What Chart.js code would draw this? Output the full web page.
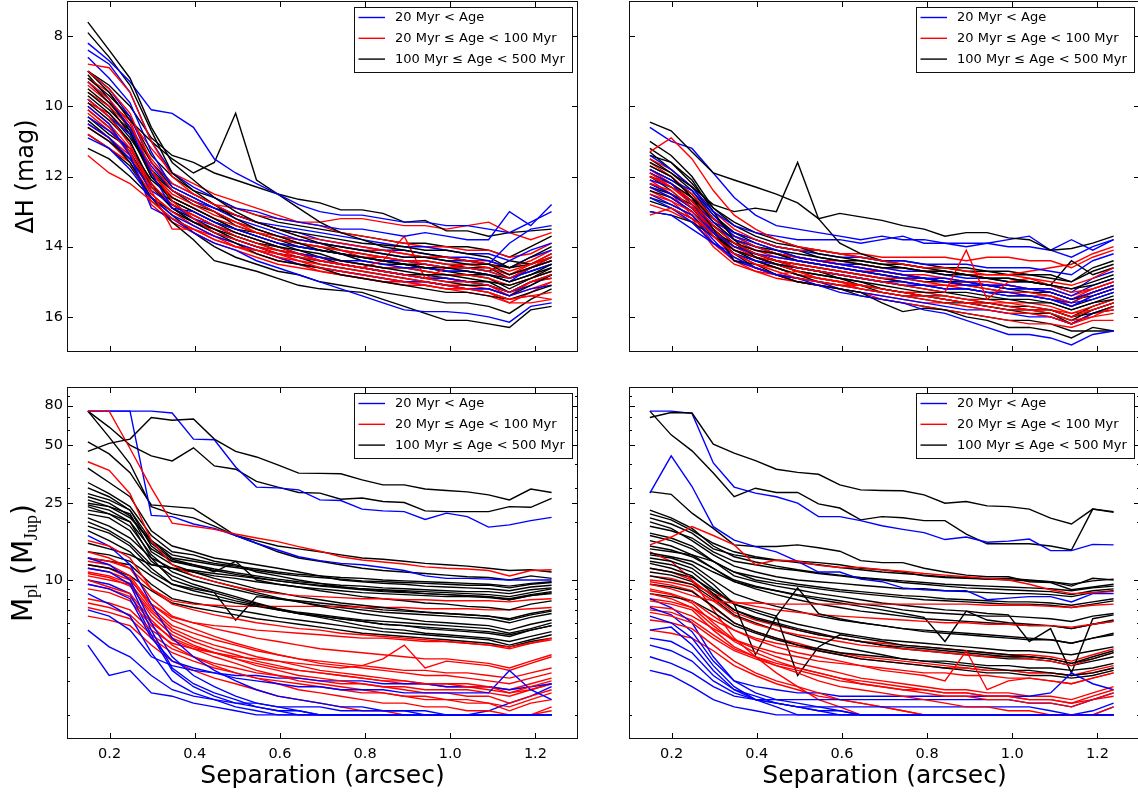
<!DOCTYPE html>
<html>
<head>
<meta charset="utf-8">
<script src="https://cdn.jsdelivr.net/npm/chart.js@4.4.1/dist/chart.umd.min.js"></script>
<style>
  html, body { margin: 0; padding: 0; background: #fff; overflow: hidden; width: 1138px; height: 795px; }
  canvas { position: absolute; }
</style>
</head>
<body>
<canvas id="tl" width="590" height="360" style="left:0px;top:0px"></canvas>
<canvas id="tr" width="590" height="360" style="left:562px;top:0px"></canvas>
<canvas id="bl" width="590" height="415" style="left:0px;top:380px"></canvas>
<canvas id="br" width="590" height="415" style="left:562px;top:380px"></canvas>
<script>
// Projected separations (arcsec) at which each contrast / mass limit is sampled
const separation = [0.149, 0.199, 0.248, 0.298, 0.347, 0.397, 0.446, 0.496, 0.545, 0.595, 0.644, 0.694,
                    0.743, 0.793, 0.842, 0.892, 0.941, 0.991, 1.040, 1.090, 1.139, 1.189, 1.238];

const sepTicks = [0.2, 0.4, 0.6, 0.8, 1.0, 1.2];
const dhTicks = [8, 10, 12, 14, 16];
const massTicks = [10, 25, 50, 80];
const massMinor = [2, 3, 4, 5, 6, 7, 8, 9, 20, 30, 40, 60, 70, 90];

const legendLabels = ['20 Myr < Age', '20 Myr \u2264 Age < 100 Myr', '100 Myr \u2264 Age < 500 Myr'];
const groupColors = ['#0000ff', '#ff0000', '#000000'];

// ---- Contrast limits, left column (Delta H, mag) ----
const dhLeftYoung = [
  [8.2,8.7,9.3,10.1,10.2, 10.6,11.5,11.9,12.2,12.5,12.8, 13.0,13.1,13.1,13.2,13.3,13.3, 13.4,13.4,13.5,13.6,13.3,13.0],
  [8.4,8.8,9.6,11.0,11.9, 12.3,12.6,12.9,13.0,13.2,13.3, 13.4,13.5,13.5,13.6,13.7,13.6, 13.7,13.8,13.8,13.0,13.4,12.8],
  [8.6,9.2,9.9,11.3,12.3, 12.6,12.9,13.2,13.4,13.6,13.8, 13.9,14.0,14.1,14.2,14.3,14.3, 14.4,14.4,14.5,13.9,13.5,13.4],
  [9.3,9.8,10.6,11.9,12.9, 13.0,13.3,13.5,13.7,13.9,14.0, 14.1,14.2,14.3,14.4,14.4,14.5, 14.6,14.6,14.7,14.9,14.7,14.5],
  [10.0,10.5,11.4,12.9,13.2, 13.6,13.9,14.1,14.4,14.6,14.8, 15.0,15.2,15.4,15.6,15.8,15.85, 15.85,15.9,16.0,16.15,15.7,15.6],
  [10.5,10.9,11.5,12.4,12.8, 13.2,13.4,13.6,13.8,14.0,14.2, 14.3,14.4,14.4,14.5,14.6,14.6, 14.7,14.7,14.8,15.0,14.6,14.4],
  [10.9,11.2,11.8,12.6,13.1, 13.4,13.7,13.9,14.1,14.3,14.5, 14.6,14.7,14.8,14.9,15.0,15.0, 15.1,15.2,15.2,15.4,15.2,15.1],
  [9.8,10.3,10.8,11.7,12.4, 12.7,12.9,13.1,13.3,13.4,13.5, 13.6,13.7,13.8,13.9,14.0,14.0, 14.1,14.2,14.2,14.4,14.1,13.9],
  [9.0,9.5,10.3,11.6,12.2, 12.5,12.8,13.1,13.3,13.5,13.6, 13.8,13.9,14.0,14.1,14.1,14.2, 14.3,14.3,14.4,14.6,14.3,14.1],
  [10.3,10.7,11.2,12.2,12.9, 13.3,13.6,13.8,14.0,14.2,14.3, 14.4,14.5,14.6,14.7,14.8,14.9, 14.9,15.0,15.1,15.3,15.1,14.8]
];
const dhLeftMid = [
  [8.8,8.9,9.6,11.0,12.0, 12.5,12.8,13.1,13.3,13.5,13.7, 13.8,13.9,14.0,14.1,14.2,14.3, 14.3,14.4,14.5,14.7,14.5,14.3],
  [9.0,9.5,10.2,11.6,12.4, 12.7,13.0,13.3,13.6,13.8,13.9, 14.0,14.1,14.3,14.3,14.4,14.5, 14.6,14.6,14.7,14.9,14.6,14.4],
  [9.3,9.8,10.5,11.8,12.7, 13.2,13.6,13.8,14.0,14.2,14.3, 14.4,14.5,14.6,14.7,14.8,14.9, 15.0,15.0,15.1,15.3,15.0,14.8],
  [9.8,10.3,11.1,12.4,13.5, 13.5,13.8,14.0,14.1,14.3,14.4, 14.6,14.7,14.8,14.9,15.0,15.1, 15.2,15.2,15.3,15.5,15.4,15.5],
  [11.4,11.9,12.2,12.7,13.2, 13.5,13.8,14.0,14.1,14.2,14.4, 14.5,14.6,14.7,14.8,14.9,15.0, 15.1,15.2,15.3,15.5,15.4,15.3],
  [10.0,10.5,11.2,12.2,12.8, 13.1,13.4,13.6,13.8,14.0,14.2, 14.4,14.5,14.6,14.4,13.7,14.9, 14.6,14.5,14.6,14.8,14.6,14.3],
  [10.5,10.9,11.4,12.3,12.8, 13.1,13.4,13.7,13.9,14.1,14.2, 14.3,14.4,14.5,14.6,14.6,14.7, 14.8,14.8,14.9,15.1,14.9,14.7],
  [9.6,10.0,10.6,11.5,12.2, 12.5,12.8,12.9,13.1,13.2,13.3, 13.3,13.2,13.2,13.3,13.4,13.4, 13.5,13.4,13.3,13.6,13.8,13.6],
  [10.8,11.2,11.6,12.5,13.0, 13.4,13.7,14.0,14.2,14.4,14.5, 14.7,14.8,14.9,15.0,15.1,15.1, 15.2,15.3,15.4,15.6,15.6,15.5],
  [9.4,9.9,10.4,11.2,11.9, 12.2,12.5,12.7,12.9,13.1,13.3, 13.4,13.6,13.7,13.8,13.9,14.0, 14.0,14.1,14.1,14.3,14.2,13.9],
  [10.2,10.7,11.3,12.5,13.0, 13.3,13.5,13.8,14.0,14.1,14.3, 14.4,14.5,14.6,14.7,14.8,14.9, 14.9,15.0,15.1,15.4,15.0,14.9],
  [9.2,9.6,10.4,11.9,12.6, 12.9,13.2,13.4,13.6,13.7,13.9, 14.0,14.1,14.2,14.3,14.4,14.4, 14.5,14.5,14.6,14.8,14.5,14.2],
  [10.1,10.6,11.4,12.8,13.3, 13.6,13.9,14.1,14.3,14.5,14.6, 14.7,14.8,14.9,15.0,15.0,15.1, 15.2,15.2,15.3,15.6,15.3,15.0],
  [9.9,10.2,10.8,11.9,12.5, 12.8,13.1,13.3,13.5,13.7,13.8, 13.9,14.0,14.1,14.1,14.2,14.3, 14.3,14.4,14.4,14.6,14.4,14.1],
  [10.6,11.0,11.6,12.7,13.2, 13.5,13.7,13.9,14.1,14.3,14.5, 14.6,14.7,14.8,14.9,15.0,15.0, 15.1,15.1,15.2,15.4,15.2,15.0]
];
const dhLeftOld = [
  [7.6,8.4,9.2,10.6,11.6, 12.1,12.6,13.0,13.3,13.5,13.7, 13.9,14.0,14.1,14.2,14.3,14.3, 14.4,14.5,14.5,14.8,14.6,14.4],
  [7.9,8.6,9.4,10.7,11.9, 12.4,12.8,13.2,13.5,13.7,13.9, 14.1,14.2,14.3,14.4,14.5,14.6, 14.6,14.7,14.8,15.0,14.8,14.5],
  [9.0,9.6,10.4,11.0,11.5, 11.9,11.6,10.2,12.1,12.5,12.9, 13.3,13.6,13.8,14.0,14.1,14.2, 14.3,14.4,14.5,14.6,14.5,14.3],
  [9.0,9.4,10.0,10.9,11.4, 11.6,11.9,12.1,12.3,12.5,12.65, 12.75,12.95,12.95,13.05,13.3,13.25, 13.55,13.55,13.7,13.6,13.55,13.5],
  [9.3,9.9,10.6,11.6,12.3, 12.6,12.9,13.1,13.3,13.5,13.6, 13.7,13.8,13.9,13.95,14.0,14.1, 14.1,14.2,14.3,14.6,14.3,14.0],
  [9.6,10.1,10.7,12.0,12.7, 13.0,13.3,13.6,13.8,14.0,14.1, 14.2,14.4,14.5,14.6,14.7,14.8, 14.8,14.9,15.0,15.1,14.9,14.7],
  [9.9,10.4,11.0,12.2,12.9, 13.3,13.6,13.9,14.2,14.4,14.5, 14.6,14.8,14.9,15.0,15.1,15.2, 15.3,15.3,15.4,15.5,15.3,15.1],
  [10.4,10.9,11.6,12.6,13.3, 13.8,14.4,14.55,14.7,14.9,15.1, 15.2,15.25,15.3,15.5,15.7,15.9, 16.1,16.1,16.2,16.3,15.8,15.7],
  [10.6,11.0,11.5,12.3,12.9, 13.2,13.5,13.8,14.0,14.2,14.3, 14.5,14.6,14.7,14.8,14.9,15.0, 15.1,15.2,15.2,15.4,15.1,14.8],
  [11.2,11.5,12.0,12.6,13.0, 13.3,13.5,13.7,13.9,14.1,14.2, 14.3,14.4,14.5,14.6,14.6,14.7, 14.8,14.8,14.9,15.2,14.9,14.6],
  [9.2,9.7,10.3,11.4,12.0, 12.4,12.6,12.9,13.1,13.3,13.4, 13.5,13.6,13.7,13.8,13.9,13.9, 14.0,14.0,14.1,14.3,14.0,13.7],
  [10.3,10.8,11.2,12.1,12.6, 12.9,13.2,13.5,13.7,13.9,14.1, 14.3,14.5,14.6,14.7,14.8,14.9, 15.0,15.1,15.1,15.3,15.0,14.9],
  [9.7,10.2,10.9,11.8,12.4, 12.7,13.0,13.4,13.6,13.8,13.9, 14.0,14.2,14.3,14.4,14.5,14.6, 14.7,14.7,14.8,14.9,14.7,14.5],
  [9.5,10.0,10.8,12.0,12.6, 12.9,13.2,13.5,13.7,13.9,14.0, 14.1,14.2,14.3,14.4,14.5,14.5, 14.6,14.6,14.7,14.4,14.5,14.2],
  [9.1,9.8,10.7,11.9,12.4, 12.8,13.0,13.3,13.5,13.7,13.8, 13.9,14.1,14.2,14.3,14.4,14.4, 14.5,14.6,14.6,14.9,14.6,14.3],
  [9.8,10.3,11.0,12.3,12.8, 13.1,13.4,13.7,13.9,14.0,14.2, 14.4,14.5,14.6,14.7,14.8,14.8, 14.9,15.0,15.0,15.3,15.0,14.8],
  [10.1,10.6,11.3,12.3,12.7, 13.0,13.3,13.5,13.6,13.8,14.0, 14.1,14.2,14.4,14.5,14.5,14.6, 14.7,14.8,14.8,15.0,14.8,14.6],
  [10.8,11.2,11.7,12.6,13.1, 13.6,14.0,14.3,14.5,14.7,14.8, 15.0,15.1,15.2,15.3,15.4,15.5, 15.6,15.6,15.7,15.9,15.5,15.2]
];

// ---- Contrast limits, right column (Delta H, mag) ----
const dhRightYoung = [
  [10.6,11.0,11.2,11.9,12.6, 13.1,13.4,13.5,13.6,13.7,13.8, 13.7,13.8,13.8,13.9,13.9,13.9, 14.0,14.0,14.1,14.3,14.0,13.8],
  [11.4,11.8,12.3,13.0,13.4, 13.6,13.7,13.8,13.8,13.8,13.9, 13.8,13.7,13.9,13.9,14.0,13.9, 13.8,13.7,14.1,13.8,14.1,13.8],
  [12.3,12.6,13.0,13.6,14.0, 14.2,14.3,14.4,14.5,14.6,14.7, 14.8,14.9,14.9,15.0,15.1,15.1, 15.2,15.2,15.3,15.5,15.3,15.1],
  [12.6,12.9,13.3,13.9,14.3, 14.6,14.8,14.9,15.1,15.3,15.4, 15.5,15.6,15.8,15.9,16.1,16.3, 16.5,16.5,16.6,16.8,16.5,16.4],
  [13.0,13.1,13.5,13.9,14.2, 14.4,14.5,14.6,14.7,14.8,14.9, 15.0,15.0,15.1,15.2,15.2,15.3, 15.3,15.4,15.5,15.6,15.5,15.3],
  [11.8,12.1,12.4,13.1,13.7, 13.9,14.1,14.3,14.4,14.5,14.6, 14.7,14.8,14.9,14.9,15.0,15.1, 15.1,15.2,15.2,15.4,15.1,14.9],
  [12.1,12.3,12.7,13.3,13.6, 13.8,14.0,14.1,14.2,14.3,14.3, 14.4,14.4,14.5,14.5,14.5,14.6, 14.6,14.6,14.7,14.8,14.4,14.2],
  [12.5,12.8,13.1,13.8,14.4, 14.6,14.8,14.9,15.0,15.2,15.3, 15.4,15.5,15.6,15.7,15.8,15.8, 15.9,16.0,16.0,16.2,15.9,15.7],
  [11.9,12.2,12.8,13.6,14.1, 14.3,14.5,14.6,14.7,14.8,14.9, 15.0,15.1,15.1,15.2,15.2,15.3, 15.4,15.4,15.5,15.7,15.4,15.2],
  [12.2,12.5,12.9,13.4,13.8, 14.0,14.2,14.3,14.4,14.5,14.5, 14.6,14.7,14.7,14.8,14.9,14.9, 15.0,15.0,15.1,15.3,14.9,14.7]
];
const dhRightMid = [
  [11.3,10.9,11.5,12.4,13.1, 13.5,13.8,14.0,14.1,14.2,14.3, 14.4,14.5,14.6,14.6,14.7,14.8, 14.8,14.9,15.0,15.1,14.9,14.6],
  [12.0,12.3,12.7,13.4,13.9, 14.2,14.4,14.6,14.7,14.8,14.9, 15.0,15.1,15.2,15.3,14.1,15.5, 15.0,14.9,15.1,15.3,15.2,15.0],
  [12.5,12.7,13.0,13.7,14.2, 14.5,14.7,14.9,15.0,15.1,15.2, 15.3,15.4,15.5,15.6,15.7,15.8, 15.9,15.9,16.0,16.2,16.0,15.9],
  [13.1,12.9,13.2,13.6,14.0, 14.3,14.5,14.7,14.9,15.0,15.1, 15.2,15.3,15.4,15.5,15.6,15.6, 15.7,15.8,15.8,16.0,15.8,15.6],
  [11.9,12.3,12.8,13.7,14.3, 14.6,14.8,14.7,14.9,15.0,15.2, 15.3,15.4,15.4,15.5,15.6,15.7, 15.8,15.8,15.9,16.1,16.0,15.7],
  [11.5,11.8,12.3,13.0,13.5, 13.8,14.0,14.1,14.1,14.2,14.2, 14.3,14.3,14.3,14.3,14.4,14.3, 14.3,14.4,14.4,14.6,14.3,14.1],
  [12.2,12.4,12.9,13.5,14.1, 14.3,14.4,14.5,14.6,14.7,14.8, 14.9,14.9,15.0,15.1,15.1,15.2, 15.3,15.3,15.4,15.6,15.3,15.1],
  [11.7,12.0,12.5,13.2,13.7, 14.0,14.2,14.3,14.4,14.5,14.6, 14.7,14.8,14.8,14.9,15.0,15.0, 15.1,15.2,15.2,15.4,15.2,15.0],
  [12.8,13.0,13.3,13.9,14.4, 14.6,14.8,15.0,15.1,15.2,15.3, 15.5,15.6,15.7,15.8,15.9,16.0, 16.1,16.2,16.2,16.3,16.1,16.1],
  [12.3,12.6,13.0,13.6,13.9, 14.1,14.2,14.3,14.4,14.4,14.5, 14.6,14.6,14.7,14.7,14.8,14.8, 14.8,14.7,14.6,14.5,14.2,14.0],
  [12.1,12.5,13.1,13.9,14.4, 14.7,14.8,14.9,15.0,15.1,15.1, 15.2,15.3,15.3,15.4,15.5,15.5, 15.6,15.6,15.7,15.9,15.7,15.5],
  [11.8,12.2,12.7,13.5,14.0, 14.2,14.4,14.5,14.6,14.7,14.8, 14.9,15.0,15.1,15.1,15.2,15.3, 15.3,15.4,15.4,15.7,15.4,15.2],
  [12.4,12.7,13.2,14.0,14.5, 14.7,14.9,15.0,15.1,15.2,15.3, 15.4,15.5,15.6,15.6,15.7,15.8, 15.9,15.9,16.0,16.2,15.9,15.8],
  [12.0,12.2,12.6,13.3,13.8, 14.1,14.3,14.4,14.5,14.6,14.7, 14.7,14.8,14.9,15.0,15.0,15.1, 15.1,15.2,15.3,15.5,15.2,15.0],
  [11.6,12.0,12.6,13.6,14.2, 14.5,14.6,14.8,14.9,15.0,15.1, 15.2,15.3,15.3,15.4,15.5,15.6, 15.6,15.7,15.8,15.9,15.8,15.6]
];
const dhRightOld = [
  [10.45,10.7,11.3,11.9,12.1, 12.3,12.5,12.75,13.2,13.05,13.15, 13.25,13.4,13.5,13.7,13.6,13.6, 13.75,13.8,14.1,14.05,13.9,13.7],
  [11.6,11.9,12.3,12.8,13.0, 12.9,13.0,11.6,13.2,13.9,14.2, 14.4,14.5,14.6,14.7,14.8,14.9, 14.9,15.0,15.1,15.2,15.1,14.9],
  [11.0,11.4,12.0,12.9,13.4, 13.7,13.9,14.0,14.2,14.3,14.4, 14.5,14.6,14.7,14.7,14.8,14.9, 14.9,15.0,15.1,15.2,15.0,14.8],
  [11.4,11.6,12.1,13.0,13.8, 14.3,14.5,14.6,14.7,14.9,15.0, 15.1,15.2,15.3,15.3,15.4,15.5, 15.5,15.6,15.6,15.8,15.6,15.5],
  [11.7,12.0,12.6,13.5,14.4, 14.5,14.8,15.0,15.1,15.2,15.3, 15.6,15.85,15.75,15.8,16.0,16.1, 16.3,16.3,16.4,16.6,16.3,16.4],
  [12.0,12.3,12.7,13.4,13.9, 14.2,14.4,14.6,14.7,14.8,14.9, 15.0,15.1,15.2,15.3,15.3,15.4, 15.5,15.5,15.6,15.8,15.6,15.4],
  [12.4,12.6,13.0,13.6,14.1, 14.3,14.5,14.7,14.8,14.9,15.0, 15.2,15.3,15.4,15.5,15.6,15.6, 15.7,15.8,15.8,16.0,15.9,15.7],
  [12.7,12.9,13.2,13.6,13.9, 14.1,14.2,14.4,14.5,14.6,14.7, 14.8,14.9,14.9,15.0,15.1,15.1, 15.2,15.2,15.3,15.5,15.3,15.1],
  [13.0,13.1,13.3,13.7,14.1, 14.4,14.6,14.8,15.0,15.1,15.2, 15.3,15.4,15.5,15.6,15.6,15.7, 15.8,15.8,15.9,16.1,15.8,15.6],
  [11.9,12.2,12.6,13.2,13.6, 13.8,14.0,14.1,14.3,14.4,14.5, 14.6,14.6,14.7,14.8,14.8,14.9, 15.0,15.0,15.1,14.4,14.8,14.6],
  [12.2,12.5,12.9,13.5,14.0, 14.2,14.4,14.5,14.6,14.7,14.8, 14.9,15.0,15.1,15.2,15.2,15.3, 15.4,15.4,15.5,15.7,15.5,15.3],
  [11.3,11.8,12.3,13.1,13.6, 13.9,14.1,14.3,14.4,14.5,14.6, 14.7,14.8,14.9,15.0,15.0,15.1, 15.2,15.3,15.3,15.5,15.4,15.2],
  [12.6,12.8,13.1,13.7,14.2, 14.6,14.8,15.0,15.1,15.2,15.4, 15.5,15.6,15.7,15.8,15.9,16.0, 16.1,16.1,16.2,16.4,16.4,16.4],
  [11.8,12.1,12.5,13.3,13.8, 14.0,14.1,14.2,14.3,14.4,14.4, 14.5,14.5,14.6,14.6,14.7,14.7, 14.8,14.8,14.9,15.0,14.7,14.5],
  [11.5,11.9,12.4,13.2,13.7, 14.0,14.2,14.4,14.5,14.6,14.7, 14.8,14.9,15.0,15.0,15.1,15.2, 15.3,15.3,15.4,15.6,15.3,15.1],
  [12.3,12.5,12.8,13.4,13.9, 14.3,14.5,14.7,14.8,14.9,15.1, 15.2,15.3,15.4,15.4,15.5,15.6, 15.7,15.7,15.8,16.0,15.7,15.5],
  [12.0,12.4,12.9,13.6,14.2, 14.4,14.6,14.8,14.9,15.0,15.1, 15.3,15.4,15.4,15.5,15.6,15.7, 15.8,15.9,15.9,16.2,15.9,15.8],
  [11.2,11.6,12.2,12.9,13.3, 13.6,13.8,14.0,14.1,14.2,14.3, 14.4,14.4,14.5,14.6,14.6,14.7, 14.7,14.8,14.8,15.0,14.6,14.4]
];

// ---- Mass limits, left column (M_Jup) ----
const massLeftYoung = [
  [75,75,75,75,73.3, 53.7,53.3,38.5,30.3,30.0,29.3, 26,25.8,23.3,22.8,22.6,20.6, 22.2,21.3,18.8,19.3,20.3,21.1],
  [75,75,75,21.6,21.3, 19.5,18.5,17,15.5,14.3,13.2, 12.6,12.2,12.0,11.6,11.2,10.5, 10.2,10.2,10.1,10.0,10.0,10.0],
  [17,15,12,7.5,5.0, 4.0,3.4,3.0,2.7,2.5,2.4, 2.3,2.2,2.2,2.1,2.1,2.0, 2.0,2.0,2.0,2.0,2.0,2.0],
  [13,12,10,6.0,4.0, 3.2,2.8,2.5,2.3,2.2,2.1, 2,2,2,2,2,2, 2,2,2,2,2,2],
  [11.5,11,9.5,5.5,3.5, 2.9,2.6,2.4,2.2,2.1,2, 2,2,2,2,2,2, 2,2,2,2,2,2],
  [9.5,9,8.0,5.0,3.8, 3.5,3.3,3.1,3.0,2.9,2.8, 2.8,2.7,2.7,2.7,2.6,2.6, 2.6,2.6,2.6,3.4,2.7,2.4],
  [8.5,7.5,6.5,4.2,3.0, 2.6,2.4,2.2,2.1,2,2, 2,2,2,2,2,2, 2,2,2,2,2,2],
  [4.6,3.2,3.4,2.6,2.5, 2.3,2.2,2.1,2,2,2, 2,2,2,2,2,2, 2,2,2,2,2,2],
  [5.5,4.5,4.0,3.2,2.7, 2.5,2.4,2.3,2.3,2.2,2.2, 2.2,2.1,2.1,2.1,2.1,2.1, 2.0,2.0,2.1,2.3,2.5,2.8],
  [7.0,6.5,5.5,4.0,3.6, 3.4,3.3,3.2,3.2,3.1,3.1, 3.0,3.0,3.0,2.9,2.9,2.9, 2.8,2.8,2.8,2.7,2.8,2.9],
  [10,9.5,8.5,5.2,3.4, 2.8,2.5,2.3,2.2,2.1,2.1, 2.0,2,2,2,2,2, 2,2,2,2,2,2]
];
const massLeftMid = [
  [75,75,48,30,19.7, 19,18.3,17.3,16.5,15.8,14.9, 14.1,13.2,12.7,12.4,12.1,11.7, 11.5,11.4,11.2,10.5,11.2,11.3],
  [41,37,28,16,12, 10.5,9.8,9.2,8.8,8.5,8.3, 8.2,8.1,8.0,8.0,7.9,7.9, 7.8,7.8,7.8,7.7,7.9,8.0],
  [16,15,13,9,7.5, 7.0,6.6,6.3,6.0,5.8,5.6, 5.5,5.3,5.2,5.1,5.0,4.9, 4.8,4.7,4.6,4.4,4.7,5.0],
  [14,13,11.5,8,6.5, 6.0,5.6,5.3,5.0,4.8,4.6, 4.4,4.3,4.2,4.1,4.0,3.9, 3.9,3.8,3.7,3.5,3.8,4.1],
  [12.5,12,10.5,7.5,6.2, 5.6,5.1,4.7,4.4,4.1,3.9, 3.7,3.6,3.5,3.4,3.3,3.2, 3.2,3.1,3.0,2.9,3.1,3.3],
  [11,10.5,9.6,7.0,5.6, 5.0,4.6,4.3,4.0,3.8,3.6, 3.4,3.3,3.2,3.1,3.0,2.9, 2.9,2.8,2.8,2.6,2.8,3.0],
  [10.5,10,9.5,6.5,5.2, 4.6,4.2,3.9,3.6,3.4,3.2, 3.1,3.0,2.9,2.8,2.7,2.6, 2.6,2.5,2.5,2.3,2.5,2.7],
  [10,9.2,8.5,6.2,4.9, 4.4,4.0,3.7,3.4,3.2,3.0, 2.9,2.8,2.7,2.6,2.5,2.4, 2.4,2.3,2.3,2.1,2.3,2.4],
  [9,8.6,7.8,5.8,4.6, 4.0,3.6,3.3,3.1,2.9,2.7, 2.6,2.5,2.4,2.3,2.3,2.2, 2.2,2.1,2.1,2.0,2.0,2.2],
  [8.0,7.6,7.0,5.5,4.7, 4.4,4.2,4.0,3.9,3.8,3.7, 3.6,3.5,3.6,3.9,4.6,3.5, 3.8,3.7,3.6,3.4,3.7,4.0],
  [7.2,6.8,6.3,5.0,4.2, 3.8,3.5,3.3,3.1,3.0,2.9, 2.8,2.7,2.6,2.6,2.5,2.5, 2.4,2.4,2.3,2.2,2.4,2.6],
  [6.5,6.2,5.8,4.6,3.8, 3.4,3.1,2.9,2.7,2.5,2.4, 2.3,2.2,2.1,2.1,2.0,2.0, 2.0,2.0,2.0,2.0,2.0,2.1],
  [13,12.5,11.5,9.0,7.8, 7.5,7.4,7.3,7.3,7.3,7.3, 7.3,7.3,7.2,7.2,7.2,7.1, 7.1,7.1,7.0,7.0,7.1,7.2],
  [11.5,11,10,7.5,6.4, 6.0,5.8,5.7,5.5,5.4,5.3, 5.2,5.1,5.0,5.0,4.9,4.8, 4.8,4.7,4.6,4.5,4.7,4.9],
  [12,11.5,10.2,7.2,5.8, 5.3,4.9,4.6,4.3,4.1,3.9, 3.8,3.7,3.6,3.5,3.4,3.4, 3.3,3.3,3.2,3.1,3.3,3.5],
  [10.8,10.3,9.3,6.8,5.4, 4.8,4.4,4.1,3.8,3.6,3.4, 3.3,3.2,3.1,3.0,2.9,2.9, 2.8,2.8,2.7,2.6,2.7,2.9],
  [9.5,9.0,8.2,6.0,5.0, 4.5,4.2,3.9,3.7,3.5,3.4, 3.3,3.2,3.1,3.0,3.0,2.9, 2.9,2.9,2.8,2.7,2.9,3.1],
  [7.6,7.2,6.6,5.2,4.4, 4.0,3.7,3.5,3.3,3.2,3.1, 3.0,2.9,2.9,2.8,2.8,2.7, 2.7,2.7,2.6,2.5,2.7,2.9]
];
const massLeftOld = [
  [46.4,51,53.7,69.5,67.2, 68.2,53.7,46.4,43.4,39.5,35.8, 35.7,35.5,33.0,31.1,31.1,29.6, 29.1,28.6,27.6,26.0,29.6,28.4],
  [75,62,50,44,41.4, 48.4,39,37.5,32.4,30.3,28.4, 28.2,26.2,26.6,25.5,25.2,22.8, 22.6,22.6,22.6,24.0,23.8,26.5],
  [75,55,40,24,22, 21,19,17,16,15,14.5, 14,13.5,13,12.8,12.5,12.2, 12,11.8,11.5,11.2,11.3,11.0],
  [52,45,36,24.5,24, 23.5,20,17,15.5,14,13, 12.5,12,11.5,11.2,11,10.8, 10.6,10.4,10.3,10.0,10.5,10.2],
  [38,32,27,18,15, 14,13,12.5,12,11.5,11, 10.5,10,9.8,9.6,9.5,9.3, 9.2,9.1,9.0,8.8,9.2,9.4],
  [32,28,24,17,14, 13.5,12.5,12,11,10.5,10, 9.6,9.2,9.0,8.8,8.7,8.5, 8.4,8.3,8.2,8.0,8.4,8.7],
  [28,26,23,15,12.5, 12,11,12.5,10,9.5,9.2, 8.8,8.5,8.2,8.0,7.8,7.6, 7.5,7.3,7.2,7.0,7.5,7.8],
  [25,24,22,14,12, 11,10.2,9.6,9.0,8.6,8.2, 7.9,7.6,7.4,7.2,7.0,6.8, 6.7,6.6,6.5,6.2,6.6,6.9],
  [24,22,20,13,11.5, 10.5,9.8,9.2,8.6,8.1,7.7, 7.3,7.0,6.7,6.5,6.3,6.1, 6.0,5.9,5.8,5.5,5.9,6.2],
  [22,21,18,12.5,10.5, 9.5,8.8,8.2,7.6,7.1,6.7, 6.4,6.1,5.8,5.6,5.5,5.3, 5.2,5.1,5.0,4.8,5.1,5.4],
  [20,18,15.5,12,11.5, 11,10.5,10.2,9.8,9.5,9.2, 9.0,8.8,8.6,8.5,8.4,8.3, 8.2,8.2,8.1,7.9,8.3,8.5],
  [15.5,14.5,13.5,12,11.5, 11.2,10.8,10.5,10.2,9.9,9.6, 9.4,9.2,9.0,8.9,8.8,8.7, 8.6,8.5,8.4,8.2,8.6,9.0],
  [14,13.5,12.5,10.5,9.0, 8.4,8.0,7.6,7.3,7.0,6.7, 6.5,6.3,6.1,5.9,5.8,5.6, 5.5,5.4,5.3,5.1,5.5,5.8],
  [13,12.5,12,9.5,8.0, 7.6,7.3,7.0,6.7,6.4,6.2, 6.0,5.8,5.6,5.4,5.3,5.2, 5.1,5.0,4.9,4.6,4.9,5.2],
  [12,11.5,10.5,8.8,7.6, 7.2,6.9,6.6,6.3,6.1,5.9, 5.7,5.5,5.3,5.2,5.1,5.0, 4.9,4.8,4.7,4.5,4.8,5.0],
  [18,16,14,11,9.5, 9.0,8.6,6.2,8.2,8.0,7.8, 7.6,7.4,7.2,7.0,6.9,6.8, 6.7,6.6,6.5,6.3,6.7,7.0],
  [26,24,21,16,13.5, 12.8,12.2,11.8,11.4,11.0,10.7, 10.5,10.3,10.2,10.0,9.9,9.8, 9.7,9.6,9.5,9.3,9.6,9.8],
  [21,19,16.5,13,10, 9.2,8.6,8.0,7.5,7.1,6.8, 6.6,6.4,6.2,6.1,6.0,5.9, 5.8,5.7,5.6,5.3,5.6,6.0],
  [30,27,23,16,13, 12.5,12,11.6,11.2,10.8,10.5, 10.3,10.1,9.9,9.8,9.7,9.6, 9.5,9.4,9.4,9.1,9.5,9.7],
  [24.5,23,20,14.5,12.5, 11.8,11.2,10.7,10.3,9.9,9.6, 9.3,9.1,8.9,8.7,8.6,8.5, 8.4,8.3,8.2,7.9,8.3,8.6],
  [23,22,19,13.5,11, 10,9.4,8.9,8.4,8.0,7.7, 7.4,7.2,7.0,6.8,6.7,6.6, 6.5,6.4,6.3,6.0,6.4,6.7],
  [19,17.5,15,11.5,9.5, 8.8,8.3,7.8,7.4,7.0,6.7, 6.5,6.3,6.1,5.9,5.8,5.7, 5.6,5.5,5.4,5.2,5.5,5.8],
  [27,25,21.5,15.5,12.8, 12,11.4,10.9,10.5,10.1,9.8, 9.6,9.4,9.3,9.1,9.0,8.9, 8.8,8.7,8.7,8.5,8.9,9.1]
];

// ---- Mass limits, right column (M_Jup) ----
const massRightYoung = [
  [75,75,73,40.4,30.3, 28.2,27,25,21.3,21.3,20.3, 19.1,18.3,17.6,16.2,16.7,15.7, 15.9,16.3,14.2,14.2,15.3,15.2],
  [28.2,44,30.5,18.9,16.1, 14.9,14,12.5,11,11,10.1, 9.8,9.1,8.9,8.8,8.8,7.9, 8.05,8.2,8.2,7.7,8.5,8.5],
  [6.5,6.0,5.0,3.6,2.8, 2.4,2.2,2.0,2,2,2, 2,2,2,2,2,2, 2,2,2,2,2,2],
  [5.5,5.7,4.6,3.4,2.7, 2.4,2.3,2.2,2.1,2.1,2.0, 2,2,2,2,2,2, 2,2,2,2,2,2],
  [4.6,4.3,3.8,3.0,2.6, 2.4,2.3,2.2,2.2,2.2,2.2, 2.2,2.2,2.2,2.2,2.2,2.2, 2.2,2.2,2.1,2.0,2.1,2.3],
  [4.0,3.7,3.3,2.8,2.5, 2.4,2.4,2.4,2.4,2.4,2.4, 2.4,2.4,2.4,2.4,2.4,2.4, 2.4,2.3,2.3,2.2,2.4,2.6],
  [3.4,3.2,2.8,2.4,2.2, 2.1,2.0,2,2,2,2, 2,2,2,2,2,2, 2,2,2,2,2,2],
  [8.0,7.2,6.0,4.0,3.0, 2.8,2.7,2.6,2.6,2.5,2.5, 2.5,2.5,2.5,2.5,2.5,2.5, 2.5,2.5,2.6,3.3,2.9,2.7],
  [5.0,4.8,4.2,3.2,2.7, 2.5,2.3,2.2,2.1,2.0,2.0, 2,2,2,2,2,2, 2,2,2,2,2,2.2],
  [7.2,6.6,5.4,3.8,3.0, 2.6,2.4,2.3,2.2,2.1,2.0, 2,2,2,2,2,2, 2,2,2,2,2,2]
];
const massRightMid = [
  [15.2,16.7,18.9,17,15.2, 12,12.7,12.5,11.9,11.6,11.6, 11.3,11.1,10.8,10.6,10.4,10.2, 10.0,9.5,8.9,8.5,8.6,8.7],
  [9.5,9.0,8.3,7.8,7.6, 7.6,7.5,7.5,7.5,7.5,7.5, 7.5,7.5,7.5,7.5,7.5,7.4, 7.4,7.4,7.3,7.2,7.4,7.5],
  [9,8.5,7.8,6.5,5.5, 4.9,4.5,4.2,4.0,3.8,3.6, 3.4,3.3,3.2,3.0,4.3,2.7, 3.0,3.1,3.0,2.9,3.1,3.3],
  [8.5,8,7.2,5.8,4.8, 4.2,3.8,3.5,3.3,3.1,2.9, 2.8,2.7,2.6,2.5,2.5,2.4, 2.4,2.3,2.3,2.2,2.4,2.6],
  [7.8,7.5,7.0,5.5,4.5, 4.0,3.6,3.3,3.0,2.8,2.7, 2.6,2.5,2.4,2.3,2.2,2.2, 2.1,2.1,2.0,2.0,2.0,2.2],
  [7.3,7.1,6.5,5.6,4.9, 4.5,4.2,4.0,3.8,3.7,3.6, 3.5,3.4,3.3,3.3,3.2,3.2, 3.1,3.1,3.0,2.9,3.1,3.3],
  [6.8,6.5,6.0,5.0,4.3, 3.9,3.6,3.4,3.2,3.0,2.9, 2.8,2.7,2.7,2.6,2.6,2.5, 2.5,2.4,2.4,2.3,2.5,2.7],
  [6.2,6.0,5.6,4.6,3.8, 3.3,3.0,2.8,2.6,2.4,2.3, 2.2,2.1,2,2,2,2, 2,2,2,2,2,2],
  [10,9.7,9.2,7.8,6.5, 5.9,5.5,5.2,5.0,4.8,4.6, 4.5,4.4,4.3,4.2,4.1,4.0, 4.0,3.9,3.8,3.6,3.9,4.2],
  [10.5,10.2,9.5,8.5,7.7, 7.3,7.0,6.8,6.6,6.5,6.4, 6.3,6.2,6.1,6.0,6.0,5.9, 5.9,5.8,5.8,5.7,5.9,6.1],
  [5.5,5.3,5.0,4.3,3.6, 3.2,2.9,2.7,2.5,2.4,2.3, 2.2,2.1,2,2,2,2, 2,2,2,2,2,2],
  [8.0,7.7,7.2,6.2,5.5, 5.0,4.7,4.5,4.3,4.1,3.9, 3.8,3.7,3.6,3.5,3.5,3.4, 3.4,3.3,3.3,3.2,3.3,3.5],
  [14,12.5,10,7.0,5.0, 4.0,3.3,2.8,2.4,2.2,2.0, 2,2,2,2,2,2, 2,2,2,2,2,2],
  [9.8,9.4,8.8,7.2,6.0, 5.4,5.0,4.7,4.4,4.2,4.0, 3.9,3.8,3.7,3.6,3.5,3.4, 3.4,3.3,3.3,3.2,3.4,3.6],
  [8.8,8.4,7.6,6.0,4.9, 4.4,4.0,3.7,3.5,3.3,3.1, 3.0,2.9,2.8,2.7,2.7,2.6, 2.6,2.5,2.5,2.4,2.6,2.8],
  [7.0,6.8,6.2,5.2,4.4, 4.0,3.7,3.5,3.3,3.1,3.0, 2.9,2.8,2.7,2.6,2.6,2.5, 2.5,2.4,2.4,2.3,2.4,2.5],
  [11.5,11,10,8.2,6.8, 6.2,5.8,5.5,5.2,5.0,4.8, 4.7,4.6,4.5,4.4,4.3,4.2, 4.1,4.1,4.0,3.8,4.1,4.4]
];
const massRightOld = [
  [69.5,73.8,73.3,50.6,45.4, 41.5,37.5,36.1,35.3,31.1,29.3, 29.1,29,27.6,25,25.5,24.2, 24,23.3,20.9,19.5,23.3,22.4],
  [75,56.5,46.7,35.8,27, 29.9,28.4,28.4,24.8,23.6,20.5, 21.3,21,20.3,20.3,17.3,15.4, 15.4,15.4,15,14.3,23.3,22.6],
  [21,19.5,17.5,14.5,13.5, 13.0,12.6,12.5,12.3,12.0,11.5, 11.3,11.0,10.5,10.3,10.2,10.1, 10.2,10.0,9.8,9.3,10.2,10.0],
  [20,18.5,16,13.5,11.8, 11.0,10.4,10.0,9.8,9.6,9.4, 9.2,9.0,9.0,8.8,8.7,8.6, 8.5,8.5,8.4,8.2,8.6,8.8],
  [14.5,14,13.5,12.5,11, 10.0,9.6,9.3,9.0,8.7,8.5, 8.3,8.1,7.9,7.8,7.7,7.6, 7.5,7.5,7.4,7.2,7.5,7.8],
  [13.8,13.2,12.5,11.0,9.8, 9.2,8.8,8.4,8.1,7.8,7.5, 7.3,7.0,6.8,6.7,6.6,6.5, 6.5,6.4,6.3,6.1,6.5,6.7],
  [13,12.5,11.5,9.5,7.5, 4.1,6.5,9.1,6.7,6.3,6.0, 5.8,5.6,5.5,5.4,5.3,5.2, 5.1,5.0,4.9,4.7,5.0,5.3],
  [12.5,12,11,9.0,7.5, 7.0,6.5,3.2,4.5,5.2,5.0, 4.8,4.6,4.5,4.4,4.3,4.2, 4.1,4.0,3.9,3.7,3.9,4.2],
  [12.2,11.5,10.5,8.5,7.0, 6.3,5.9,5.5,5.2,5.0,4.8, 4.6,4.5,4.4,4.3,4.2,4.1, 4.0,4.0,3.9,3.7,4.0,4.3],
  [10.5,10,9.5,8.0,6.6, 6.0,5.5,5.1,4.8,4.5,4.3, 4.1,3.9,3.8,3.7,3.6,3.5, 3.4,3.4,3.3,3.2,3.3,3.5],
  [9.5,9.2,8.7,7.3,6.0, 5.4,5.0,4.6,4.3,4.1,3.9, 3.8,3.7,3.6,3.5,3.4,3.3, 3.3,3.2,3.2,3.1,3.2,3.4],
  [8.5,8.2,7.8,6.8,5.8, 5.3,4.9,4.6,4.4,4.2,4.1, 4.0,3.9,3.8,3.8,3.7,3.6, 3.6,3.5,3.5,3.4,3.5,3.7],
  [16,15,13.5,11.5,10, 9.3,8.8,8.3,7.9,7.6,7.3, 7.0,6.7,6.4,4.8,6.9,6.2, 6.0,5.9,5.8,5.6,5.9,6.2],
  [17.5,16.5,15,12.5,10.5, 9.8,9.3,8.9,8.5,8.2,7.9, 7.6,7.4,7.2,7.0,6.9,6.7, 6.6,4.8,5.6,3.3,6.3,6.6],
  [23,21,18.5,15,13.2, 12.4,11.8,11.3,10.9,10.6,10.3, 10.1,9.9,9.7,9.5,9.4,9.3, 9.2,9.1,9.0,8.8,9.1,9.3],
  [11.5,11,10.3,8.8,7.5, 6.8,6.3,5.9,5.6,5.3,5.1, 4.9,4.8,4.7,4.6,4.5,4.4, 4.3,4.3,4.2,4.1,4.3,4.5],
  [28.7,27.8,22.2,18.5,15.2, 14.9,14.9,15.2,14.7,14.1,12.6, 12.3,12.3,11.5,11.0,10.6,10.4, 10.4,9.8,9.7,8.9,9.2,9.5],
  [19,18,16.5,14,12.5, 12,11.5,11.2,10.8,10.5,10.2, 10.0,9.7,9.5,9.3,9.1,9.0, 8.9,8.8,8.7,8.4,8.8,9.0],
  [17,16,14.5,12.5,11, 10.4,9.9,9.5,9.2,8.9,8.7, 8.5,8.3,8.2,8.0,7.9,7.8, 7.7,7.7,7.6,7.4,7.7,8.0],
  [15,14.3,13.2,11.5,9.8, 9.0,8.4,7.9,7.5,7.2,6.9, 6.7,6.5,6.3,6.2,6.1,6.0, 5.9,5.8,5.8,5.6,5.9,6.1],
  [13.5,13,12,10,8.5, 7.8,7.3,6.9,6.5,6.2,6.0, 5.8,5.6,5.4,5.3,5.2,5.1, 5.0,4.9,4.9,4.7,5.0,5.2],
  [11,10.6,9.8,8.3,7.0, 6.4,6.0,5.6,5.3,5.0,4.8, 4.6,4.4,4.3,4.2,4.1,4.0, 3.9,3.9,3.8,3.6,3.8,4.0],
  [22,20.5,18,15.5,14, 13.2,12.7,12.3,12,11.6,11.3, 11.0,10.8,10.6,10.4,10.3,10.1, 10.0,9.9,9.8,9.5,9.9,10.1]
];

const FONT = '"DejaVu Sans", "Bitstream Vera Sans", sans-serif';
const SERIF = '"Liberation Serif", "DejaVu Serif", serif';

// One dataset per star; the three age classes are interleaved so no class hides another
function buildDatasets(groups) {
  const out = [];
  const n = Math.max(...groups.map(g => g.length));
  for (let i = 0; i < n; i++) {
    for (const gi of [2, 1, 0]) {
      const curve = groups[gi][i];
      if (!curve) continue;
      out.push({
        label: legendLabels[gi],
        data: curve.map((v, k) => ({ x: separation[k], y: v })),
        borderColor: groupColors[gi],
        borderWidth: 1.4,
        pointRadius: 0,
        tension: 0,
        fill: false
      });
    }
  }
  return out;
}

// Frame, inward ticks on all four sides, boxed legend and the y-axis title
function makeDecor(cfg) {
  return {
    id: 'panelDecor',
    afterDraw(chart) {
      const { ctx, chartArea: a, scales } = chart;
      ctx.save();
      ctx.strokeStyle = '#000';
      ctx.lineWidth = 1;
      const snap = v => Math.round(v) + 0.5;
      ctx.beginPath();
      for (const v of sepTicks) {
        const x = snap(scales.x.getPixelForValue(v));
        ctx.moveTo(x, a.bottom); ctx.lineTo(x, a.bottom - 6);
        ctx.moveTo(x, a.top); ctx.lineTo(x, a.top + 6);
      }
      const yLists = cfg.kind === 'mass' ? [[massTicks, 6], [massMinor, 3]] : [[dhTicks, 6]];
      for (const [list, len] of yLists) {
        for (const v of list) {
          const y = snap(scales.y.getPixelForValue(v));
          ctx.moveTo(a.left, y); ctx.lineTo(a.left + len, y);
          ctx.moveTo(a.right, y); ctx.lineTo(a.right - len, y);
        }
      }
      ctx.stroke();
      ctx.strokeStyle = '#111';
      ctx.strokeRect(a.left + 0.5, a.top + 0.5, a.right - a.left - 1, a.bottom - a.top - 1);

      // legend box
      const w = 218, h = 65;
      const x0 = Math.round(a.right - 6 - w), y0 = Math.round(a.top + 6);
      ctx.fillStyle = '#fff';
      ctx.fillRect(x0, y0, w, h);
      ctx.strokeStyle = '#111';
      ctx.strokeRect(x0 + 0.5, y0 + 0.5, w, h);
      ctx.font = '13px ' + FONT;
      ctx.textBaseline = 'middle';
      ctx.textAlign = 'left';
      legendLabels.forEach((t, i) => {
        const y = y0 + 10.5 + i * 20.8;
        ctx.strokeStyle = groupColors[i];
        ctx.lineWidth = 1.4;
        ctx.beginPath();
        ctx.moveTo(x0 + 4.5, y); ctx.lineTo(x0 + 31, y);
        ctx.stroke();
        ctx.fillStyle = '#000';
        ctx.fillText(t, x0 + 41, y + 0.5);
      });

      // y-axis title
      if (cfg.yTitle) {
        const cy = (a.top + a.bottom) / 2;
        ctx.translate(cfg.yTitleX, cy);
        ctx.rotate(-Math.PI / 2);
        ctx.fillStyle = '#000';
        ctx.textBaseline = 'alphabetic';
        if (cfg.kind === 'mass') {
          const parts = [
            ['M', '28px ' + FONT, 0],
            ['pl', '18px ' + SERIF, 5],
            [' (M', '28px ' + FONT, 0],
            ['Jup', '18px ' + SERIF, 5],
            [')', '28px ' + FONT, 0]
          ];
          let total = 0;
          for (const p of parts) { ctx.font = p[1]; total += ctx.measureText(p[0]).width; }
          let x = -total / 2;
          ctx.textAlign = 'left';
          for (const p of parts) {
            ctx.font = p[1];
            ctx.fillText(p[0], x, p[2]);
            x += ctx.measureText(p[0]).width;
          }
        } else {
          ctx.font = '24px ' + FONT;
          ctx.textAlign = 'center';
          ctx.fillText(cfg.yTitle, 0, 0);
        }
      }
      ctx.restore();
    }
  };
}

function makePanel(id, groups, cfg) {
  const isMass = cfg.kind === 'mass';
  const tickFont = { family: FONT, size: 14.5 };
  const yScale = isMass
    ? { type: 'logarithmic', min: 1.5, max: 100 }
    : { type: 'linear', min: 7, max: 17, reverse: true };
  Object.assign(yScale, {
    grid: { display: false, drawTicks: false },
    border: { display: false },
    ticks: { display: cfg.showY, color: '#000', font: tickFont, padding: 4, autoSkip: false,
             callback: v => String(v) },
    afterBuildTicks: s => { s.ticks = (isMass ? massTicks : dhTicks).map(v => ({ value: v })); },
    afterFit: s => { s.width = 67; s.paddingTop = 0; s.paddingBottom = 0; }
  });
  new Chart(document.getElementById(id), {
    type: 'line',
    data: { datasets: buildDatasets(groups) },
    options: {
      responsive: false,
      animation: false,
      devicePixelRatio: 1,
      events: [],
      layout: { padding: { left: 0, right: 12, top: cfg.padTop, bottom: 0 } },
      plugins: { legend: { display: false }, tooltip: { enabled: false } },
      scales: {
        x: {
          type: 'linear', min: 0.1, max: 1.3,
          grid: { display: false, drawTicks: false },
          border: { display: false },
          ticks: { display: cfg.showX, color: '#000', font: tickFont, padding: 7, maxRotation: 0,
                   autoSkip: false, callback: v => Number(v).toFixed(1) },
          afterBuildTicks: s => { s.ticks = sepTicks.map(v => ({ value: v })); },
          afterFit: s => { s.height = cfg.xHeight; s.paddingLeft = 0; s.paddingRight = 0; },
          title: { display: cfg.showX, text: 'Separation (arcsec)', color: '#000',
                   font: { family: FONT, size: 25 }, padding: { top: 0, bottom: 4 } }
        },
        y: yScale
      }
    },
    plugins: [makeDecor(cfg)]
  });
}

makePanel('tl', [dhLeftYoung, dhLeftMid, dhLeftOld],
  { kind: 'dh', showX: false, showY: true, padTop: 1, xHeight: 8, yTitle: '\u0394H (mag)', yTitleX: 33 });
makePanel('tr', [dhRightYoung, dhRightMid, dhRightOld],
  { kind: 'dh', showX: false, showY: false, padTop: 1, xHeight: 8 });
makePanel('bl', [massLeftYoung, massLeftMid, massLeftOld],
  { kind: 'mass', showX: true, showY: true, padTop: 7, xHeight: 56, yTitle: 'Mpl', yTitleX: 32 });
makePanel('br', [massRightYoung, massRightMid, massRightOld],
  { kind: 'mass', showX: true, showY: false, padTop: 7, xHeight: 56 });
</script>
</body>
</html>
